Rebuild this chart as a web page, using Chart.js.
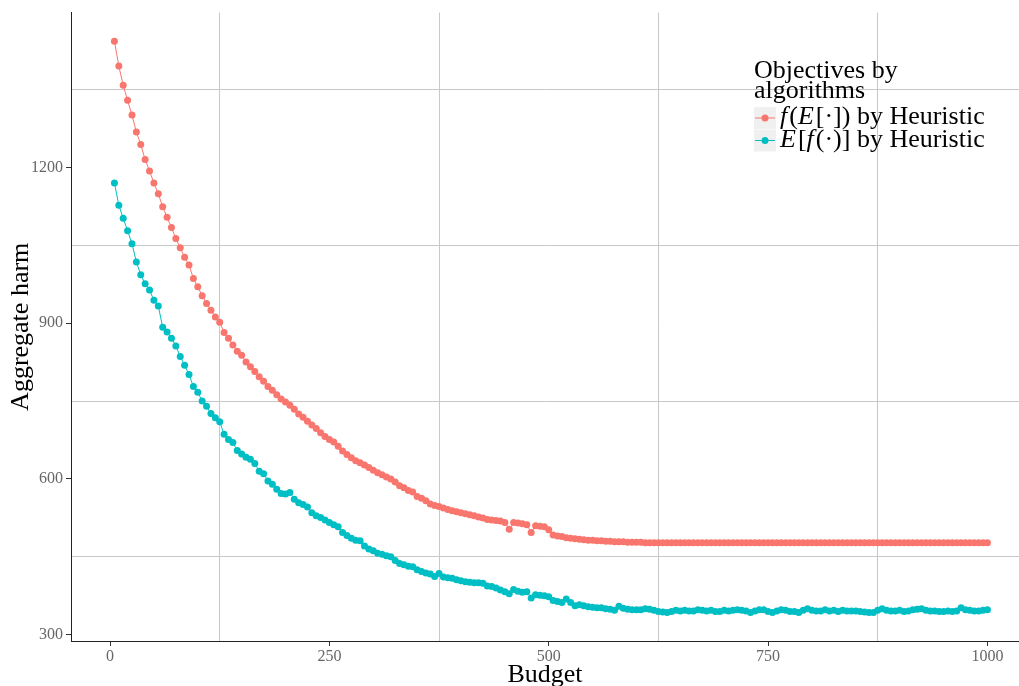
<!DOCTYPE html>
<html>
<head>
<meta charset="utf-8">
<title>Aggregate harm by budget</title>
<script src="https://cdn.jsdelivr.net/npm/chart.js@4.4.1/dist/chart.umd.min.js"></script>
<style>
    body { margin: 0; background: #fff; }
    #chart { display: block; }
</style>
</head>
<body>
<canvas id="chart" width="1019" height="686"></canvas>
<script>
// 预算（横轴）
const budget = [
    5, 10, 15, 20, 25, 30, 35, 40, 45, 50, 55, 60, 65, 70, 75, 80, 85, 90, 95, 100,
    105, 110, 115, 120, 125, 130, 135, 140, 145, 150, 155, 160, 165, 170, 175, 180, 185, 190, 195, 200,
    205, 210, 215, 220, 225, 230, 235, 240, 245, 250, 255, 260, 265, 270, 275, 280, 285, 290, 295, 300,
    305, 310, 315, 320, 325, 330, 335, 340, 345, 350, 355, 360, 365, 370, 375, 380, 385, 390, 395, 400,
    405, 410, 415, 420, 425, 430, 435, 440, 445, 450, 455, 460, 465, 470, 475, 480, 485, 490, 495, 500,
    505, 510, 515, 520, 525, 530, 535, 540, 545, 550, 555, 560, 565, 570, 575, 580, 585, 590, 595, 600,
    605, 610, 615, 620, 625, 630, 635, 640, 645, 650, 655, 660, 665, 670, 675, 680, 685, 690, 695, 700,
    705, 710, 715, 720, 725, 730, 735, 740, 745, 750, 755, 760, 765, 770, 775, 780, 785, 790, 795, 800,
    805, 810, 815, 820, 825, 830, 835, 840, 845, 850, 855, 860, 865, 870, 875, 880, 885, 890, 895, 900,
    905, 910, 915, 920, 925, 930, 935, 940, 945, 950, 955, 960, 965, 970, 975, 980, 985, 990, 995, 1000
];

// f(E[·]) by Heuristic
const harmFOfMean = [
    1443, 1395, 1358, 1329, 1301, 1268, 1244, 1215, 1193, 1170, 1149, 1124, 1104, 1084, 1063, 1045, 1027, 1012, 986, 970,
    953, 938, 925, 912, 902, 882, 871, 858, 846, 838, 825, 816, 807, 797, 788, 778, 771, 762, 754, 748,
    742, 734, 725, 719, 711, 704, 697, 689, 682, 676, 671, 663, 654, 647, 641, 635, 631, 627, 622, 617,
    612, 608, 604, 600, 594, 587, 583, 578, 575, 566, 563, 558, 552, 549, 547, 544, 541, 539, 537, 535,
    533, 531, 529, 527, 525, 522, 521, 520, 519, 516, 503, 516, 515, 514, 512, 497, 510, 509, 508, 502,
    492, 490, 489, 487, 486, 485, 484, 483, 482, 482, 481, 481, 480, 480, 479, 479, 479, 478, 478, 478,
    478, 477, 477, 477, 477, 477, 477, 477, 477, 477, 477, 477, 477, 477, 477, 477, 477, 477, 477, 477,
    477, 477, 477, 477, 477, 477, 477, 477, 477, 477, 477, 477, 477, 477, 477, 477, 477, 477, 477, 477,
    477, 477, 477, 477, 477, 477, 477, 477, 477, 477, 477, 477, 477, 477, 477, 477, 477, 477, 477, 477,
    477, 477, 477, 477, 477, 477, 477, 477, 477, 477, 477, 477, 477, 477, 477, 477, 477, 477, 477, 477
];

// E[f(·)] by Heuristic
const harmMeanOfF = [
    1170, 1127, 1102, 1078, 1053, 1018, 993, 976, 964, 944, 933, 892, 883, 871, 856, 836, 819, 801, 778, 767,
    750, 740, 726, 718, 710, 686, 676, 670, 655, 648, 642, 638, 630, 615, 610, 596, 590, 580, 572, 571,
    574, 561, 554, 551, 546, 535, 529, 526, 521, 516, 512, 508, 497, 491, 486, 482, 481, 471, 465, 462,
    457, 455, 452, 450, 443, 437, 435, 432, 431, 425, 422, 419, 417, 412, 418, 411, 410, 409, 406, 404,
    402, 401, 400, 400, 399, 394, 393, 390, 386, 383, 379, 387, 384, 382, 383, 371, 377, 376, 375, 373,
    366, 364, 362, 369, 362, 356, 358, 356, 354, 353, 352, 352, 350, 349, 347, 355, 351, 349, 348, 348,
    348, 350, 349, 347, 345, 344, 343, 345, 347, 346, 347, 346, 346, 348, 347, 346, 347, 345, 345, 347,
    346, 347, 348, 347, 346, 343, 346, 348, 348, 345, 343, 346, 348, 347, 345, 345, 343, 347, 350, 347,
    346, 346, 348, 346, 347, 345, 347, 346, 346, 346, 345, 344, 343, 343, 347, 350, 347, 346, 346, 347,
    345, 346, 348, 349, 350, 347, 346, 346, 345, 345, 346, 345, 346, 352, 348, 347, 346, 346, 347, 348
];

// 刻度（主刻度带标签，次刻度只画网格线）
const xTicks = [0, 125, 250, 375, 500, 625, 750, 875, 1000];
const xLabels = [0, 250, 500, 750, 1000];
const yTicks = [300, 450, 600, 750, 900, 1050, 1200, 1350];
const yLabels = [300, 600, 900, 1200];

const RED = '#F8766D';
const CYAN = '#00BFC4';
const SERIF = '"Liberation Serif", "DejaVu Serif", serif';

function toPoints(values) {
    return budget.map((b, i) => ({ x: b, y: values[i] }));
}

// 图例：带斜体数学符号的文字逐段绘制
const legendEntries = [
    { color: RED, runs: [['f', true], ['(', false], ['E', true], ['[·]) by Heuristic', false]] },
    { color: CYAN, runs: [['E', true], ['[', false], ['f', true], ['(·)] by Heuristic', false]] }
];

const legendPlugin = {
    id: 'ggLegend',
    afterDraw(chart) {
        const ctx = chart.ctx;
        const size = 26;
        ctx.save();
        ctx.fillStyle = '#000';
        ctx.textBaseline = 'alphabetic';
        ctx.textAlign = 'left';
        ctx.font = size + 'px ' + SERIF;
        ctx.fillText('Objectives by', 754, 78);
        ctx.fillText('algorithms', 754, 98);

        const rowTop = [107, 129.5];
        legendEntries.forEach((entry, i) => {
            const top = rowTop[i];
            const cy = top + 11;
            ctx.fillStyle = '#f0f0f0';
            ctx.fillRect(754, top, 22, 22);
            ctx.strokeStyle = entry.color;
            ctx.lineWidth = 1;
            ctx.beginPath();
            ctx.moveTo(755, cy);
            ctx.lineTo(775, cy);
            ctx.stroke();
            ctx.fillStyle = entry.color;
            ctx.beginPath();
            ctx.arc(765, cy, 3.5, 0, Math.PI * 2);
            ctx.fill();

            let x = 780;
            ctx.fillStyle = '#000';
            entry.runs.forEach(([text, italic]) => {
                ctx.font = (italic ? 'italic ' : '') + size + 'px ' + SERIF;
                ctx.fillText(text, x, cy + 6);
                x += ctx.measureText(text).width + (italic ? 2 : 0);
            });
        });
        ctx.restore();
    }
};

// 原图右侧被裁掉：布局完成后把绘图区右边拉到画布边缘
const stretchRightPlugin = {
    id: 'stretchRight',
    afterLayout(chart) {
        const right = chart.width;
        const area = chart.chartArea;
        area.right = right;
        area.width = right - area.left;
        const x = chart.scales.x;
        x.right = right;
        x.width = right - x.left;
        x.configure();
    }
};

const ctx = document.getElementById('chart').getContext('2d');
const chart = new Chart(ctx, {
    type: 'line',
    data: {
        datasets: [
            {
                label: 'f(E[·]) by Heuristic',
                data: toPoints(harmFOfMean),
                borderColor: RED,
                backgroundColor: RED,
                borderWidth: 1,
                pointRadius: 3.5,
                pointBorderWidth: 0,
                pointBackgroundColor: RED,
                tension: 0
            },
            {
                label: 'E[f(·)] by Heuristic',
                data: toPoints(harmMeanOfF),
                borderColor: CYAN,
                backgroundColor: CYAN,
                borderWidth: 1,
                pointRadius: 3.5,
                pointBorderWidth: 0,
                pointBackgroundColor: CYAN,
                tension: 0
            }
        ]
    },
    options: {
        responsive: false,
        animation: false,
        layout: { padding: { top: 10, right: 0, bottom: 0, left: 0 } },
        plugins: {
            legend: { display: false },
            tooltip: { enabled: false }
        },
        scales: {
            x: {
                type: 'linear',
                min: -44.5,
                max: 1036,
                afterBuildTicks: (scale) => { scale.ticks = xTicks.map(v => ({ value: v })); },
                afterFit: (scale) => { scale.height = 45; },
                ticks: {
                    autoSkip: false,
                    maxRotation: 0,
                    padding: 1,
                    color: '#666',
                    font: { family: SERIF, size: 16 },
                    callback: (v) => xLabels.includes(v) ? String(v) : ''
                },
                grid: {
                    color: (c) => (c.tick && xLabels.includes(c.tick.value)) ? 'rgba(0,0,0,0)' : '#c8c8c8',
                    tickColor: (c) => (c.tick && xLabels.includes(c.tick.value)) ? '#333' : 'rgba(0,0,0,0)',
                    tickLength: 5,
                    lineWidth: 1
                },
                border: { display: true, color: '#222', width: 1 },
                title: {
                    display: true,
                    text: 'Budget',
                    color: '#000',
                    font: { family: SERIF, size: 26, lineHeight: 0.8 },
                    padding: { top: 0, bottom: 0 }
                }
            },
            y: {
                type: 'linear',
                min: 288,
                max: 1498,
                afterBuildTicks: (scale) => { scale.ticks = yTicks.map(v => ({ value: v })); },
                afterFit: (scale) => { scale.width = 71; },
                ticks: {
                    autoSkip: false,
                    padding: 3,
                    color: '#666',
                    font: { family: SERIF, size: 16 },
                    callback: (v) => yLabels.includes(v) ? String(v) : ''
                },
                grid: {
                    color: (c) => (c.tick && yLabels.includes(c.tick.value)) ? 'rgba(0,0,0,0)' : '#c8c8c8',
                    tickColor: (c) => (c.tick && yLabels.includes(c.tick.value)) ? '#333' : 'rgba(0,0,0,0)',
                    tickLength: 5,
                    lineWidth: 1
                },
                border: { display: true, color: '#222', width: 1 },
                title: {
                    display: true,
                    text: 'Aggregate harm',
                    color: '#000',
                    font: { family: SERIF, size: 26, lineHeight: 1 },
                    padding: { top: 8, bottom: 0 }
                }
            }
        }
    },
    plugins: [stretchRightPlugin, legendPlugin]
});
</script>
</body>
</html>
